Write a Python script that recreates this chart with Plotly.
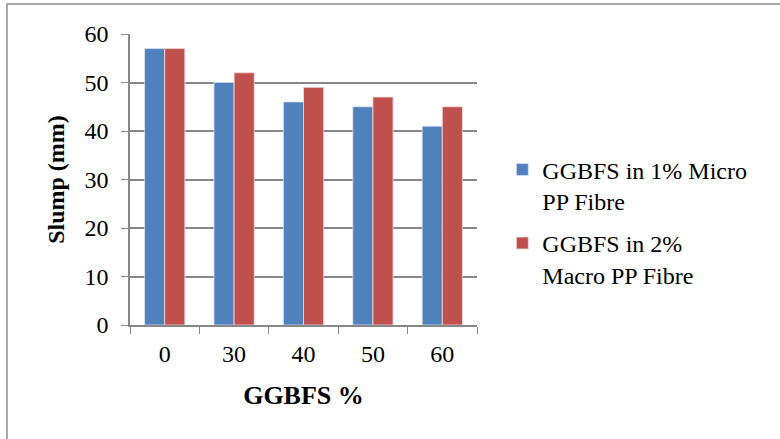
import plotly.graph_objects as go

# GGBFS replacement levels and measured slump values
ggbfs_levels = ["0", "30", "40", "50", "60"]
slump_micro_1pct = [57, 50, 46, 45, 41]
slump_macro_2pct = [57, 52, 49, 47, 45]
series_names = ["GGBFS in 1% Micro<br>PP Fibre", "GGBFS in 2%<br>Macro PP Fibre"]
y_ticks = [0, 10, 20, 30, 40, 50, 60]

FONT = "Liberation Serif, Times New Roman, serif"
GRID = "#878787"

fig = go.Figure()
fig.add_trace(go.Bar(x=ggbfs_levels, y=slump_micro_1pct, name=series_names[0],
                     legendgroup="micro",
                     marker=dict(color="#4F81BD", line=dict(color="#DCE6F2", width=0.8))))
fig.add_trace(go.Bar(x=ggbfs_levels, y=slump_macro_2pct, name=series_names[1],
                     legendgroup="macro",
                     marker=dict(color="#C0504D", line=dict(color="#F2DCDB", width=0.8))))

fig.update_layout(
    width=780, height=439,
    margin=dict(l=130, r=303, t=34, b=114),
    paper_bgcolor="white", plot_bgcolor="white",
    font=dict(family=FONT, size=24, color="black"),
    barmode="group", bargap=0.42, bargroupgap=0,
    showlegend=True,
    legend=dict(x=1.073, y=0.354, xanchor="left", yanchor="middle", valign="top",
                font=dict(family=FONT, size=24), tracegroupgap=8,
                itemwidth=30, bgcolor="rgba(0,0,0,0)"),
    xaxis=dict(
        type="category", tickson="boundaries", ticks="outside", ticklen=7,
        tickcolor=GRID, showline=True, linecolor=GRID, linewidth=1.5,
        showgrid=False, tickfont=dict(size=24), ticklabelstandoff=6,
        title=dict(text="<b>GGBFS %</b>", font=dict(size=26), standoff=20),
    ),
    yaxis=dict(
        range=[0, 60], tickvals=y_ticks, ticks="outside", ticklen=7,
        tickcolor=GRID, showline=True, linecolor=GRID, linewidth=1.5,
        showgrid=True, gridcolor=GRID, gridwidth=1.5, zeroline=False,
        tickfont=dict(size=24), ticklabelstandoff=8,
        title=dict(text="<b>Slump (mm)</b>", font=dict(size=24), standoff=13),
    ),
)

# Outer chart frame
fig.add_shape(type="rect", xref="paper", yref="paper",
              x0=(7 - 130) / 347, x1=(800 - 130) / 347,
              y0=(325 - 460) / 291, y1=(325 - 4) / 291,
              line=dict(color="#8C8C8C", width=1.5), layer="below")

fig.write_html("out.html")
